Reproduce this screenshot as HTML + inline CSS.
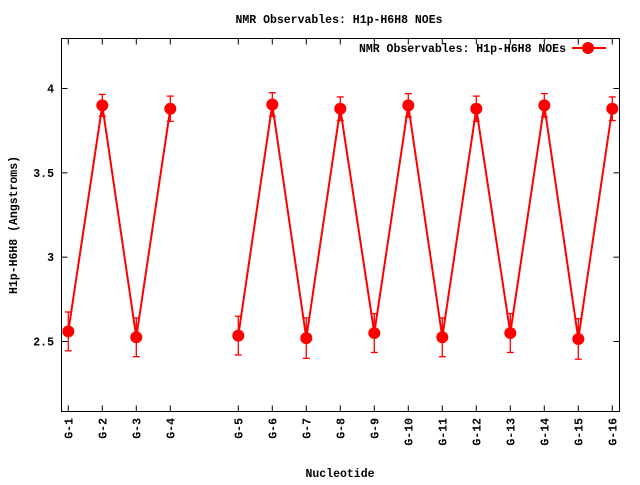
<!DOCTYPE html>
<html><head><meta charset="utf-8"><style>
html,body{margin:0;padding:0;background:#fff}
svg text{font-family:"Liberation Mono","DejaVu Sans Mono",monospace;font-weight:bold;font-size:11.5px;fill:#000}
</style></head><body>
<svg id="chart" width="640" height="480" viewBox="0 0 640 480" xmlns="http://www.w3.org/2000/svg">
<rect width="640" height="480" fill="#fff"/>
<text x="339" y="23" text-anchor="middle">NMR Observables: H1p-H6H8 NOEs</text>
<rect x="61.5" y="38.5" width="558" height="373" fill="none" stroke="#000" stroke-width="1"/>
<g id="axes"></g>
<g id="series"></g>
<text transform="translate(17,225) rotate(-90)" text-anchor="middle">H1p-H6H8 (Angstroms)</text>
<text x="340" y="477" text-anchor="middle">Nucleotide</text>
<g>
<text x="566" y="52" text-anchor="end">NMR Observables: H1p-H6H8 NOEs</text>
<line x1="572" y1="48" x2="606" y2="48" stroke="#f00" stroke-width="2"/>
<circle cx="588" cy="48" r="6" fill="#f00"/>
</g>
</svg>
<script>
const categories=["G-1","G-2","G-3","G-4","G-5","G-6","G-7","G-8","G-9","G-10","G-11","G-12","G-13","G-14","G-15","G-16"];
const positions=[1,2,3,4,6,7,8,9,10,11,12,13,14,15,16,17];
const values=[2.56,3.90,2.525,3.88,2.535,3.905,2.52,3.88,2.55,3.90,2.525,3.88,2.55,3.90,2.515,3.88];
const errors=[0.115,0.065,0.115,0.075,0.115,0.07,0.12,0.07,0.115,0.07,0.115,0.075,0.115,0.07,0.12,0.07];
const yTicks=[2.5,3,3.5,4];
const yTickLabels=["2.5","3","3.5","4"];
const NS="http://www.w3.org/2000/svg";
function xs(p){return 68.3+(p-1)*34;}
function ys(v){return 341.5-(v-2.5)*(253/1.5);}
function mk(tag,attrs,parent){const e=document.createElementNS(NS,tag);for(const k in attrs)e.setAttribute(k,attrs[k]);parent.appendChild(e);return e;}
const axes=document.getElementById('axes');
yTicks.forEach((t,i)=>{
  const y=ys(t);
  const g=mk('g',{},axes);
  
  
  mk('line',{x1:61.5,y1:y,x2:67.5,y2:y,stroke:'#000'},g);
  mk('line',{x1:613.5,y1:y,x2:619.5,y2:y,stroke:'#000'},g);
  const tx=mk('text',{x:54,y:y+4,'text-anchor':'end'},g);
  tx.textContent=yTickLabels[i];
});
categories.forEach((c,i)=>{
  const x=xs(positions[i]);
  const g=mk('g',{},axes);
  
  
  mk('line',{x1:x,y1:411.5,x2:x,y2:405.5,stroke:'#000'},g);
  mk('line',{x1:x,y1:38.5,x2:x,y2:44.5,stroke:'#000'},g);
  const tx=mk('text',{transform:'translate('+(x+4)+',418) rotate(-90)','text-anchor':'end'},g);
  tx.textContent=c;
});
const series=document.getElementById('series');
// lines (break where position gap)
let pts=[];
const segs=[];
positions.forEach((p,i)=>{
  if(i>0&&p-positions[i-1]>1){segs.push(pts);pts=[];}
  pts.push(xs(p)+','+ys(values[i]));
});
segs.push(pts);
segs.forEach((s,k)=>{
  const pl=mk('polyline',{points:s.join(' '),fill:'none',stroke:'#f00','stroke-width':2},series);
  
  
});
values.forEach((v,i)=>{
  const x=xs(positions[i]);
  const g=mk('g',{},series);
  
  
  const y1=ys(v+errors[i]),y2=ys(v-errors[i]);
  mk('line',{x1:x,y1:y1,x2:x,y2:y2,stroke:'#f00','stroke-width':1.3},g);
  mk('line',{x1:x-3.5,y1:y1,x2:x+3.5,y2:y1,stroke:'#f00','stroke-width':1.3},g);
  mk('line',{x1:x-3.5,y1:y2,x2:x+3.5,y2:y2,stroke:'#f00','stroke-width':1.3},g);
  mk('circle',{cx:x,cy:ys(v),r:6,fill:'#f00'},g);
});
</script>
</body></html>
